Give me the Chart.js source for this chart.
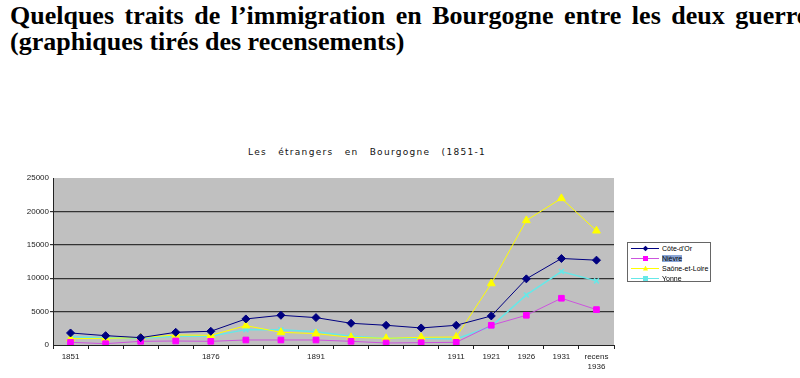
<!DOCTYPE html>
<html>
<head>
<meta charset="utf-8">
<script src="https://cdn.jsdelivr.net/npm/chart.js"></script>
<style>
    body { margin: 0; width: 800px; height: 378px; overflow: hidden; background: #fff; position: relative; }
    .heading {
        position: absolute; left: 10px; top: 3px; white-space: nowrap;
        font-family: "Liberation Serif", serif; font-weight: bold; font-size: 26px; line-height: 26px;
        color: #000;
    }
    .heading .l1 { word-spacing: 4px; }
    #chart-title {
        position: absolute; left: 248px; top: 147px; white-space: nowrap;
        font-family: "DejaVu Sans", sans-serif; font-size: 9px; letter-spacing: 1.3px; word-spacing: 7px; color: #111;
    }
    #chart-box { position: absolute; left: 0; top: 170px; width: 800px; height: 208px; }
    #legend {
        position: absolute; left: 627px; top: 242px; width: 82px; height: 38px;
        border: 1px solid #666; background: #fff;
        font-family: "Liberation Sans", sans-serif; font-size: 7px; color: #000;
    }
    #legend .row { position: absolute; left: 3px; height: 10px; display: flex; align-items: center; }
    #legend .sample { position: relative; width: 28px; height: 1px; margin-right: 3px; }
    #legend .dot { position: absolute; left: 12px; top: -2px; width: 5px; height: 5px; }
    #legend .sel { background: #8aa6d6; }
</style>
</head>
<body>
<div class="heading">
    <div class="l1">Quelques traits de l’immigration en Bourgogne entre les deux guerres</div>
    <div>(graphiques tirés des recensements)</div>
</div>
<div id="chart-title">Les étrangers en Bourgogne (1851-1</div>
<div id="chart-box"><canvas id="chart-etrangers"></canvas></div>
<div id="legend"></div>

<script>
const years = ['1851', '', '', '', '1876', '', '', '1891', '', '', '', '1911', '1921', '1926', '1931', ['recens', '1936']]

const coteDor = [1800, 1400, 1100, 1900, 2050, 3900, 4450, 4100, 3250, 2950, 2550, 2950, 4350, 9900, 12950, 12700]
const nievre = [400, 200, 550, 600, 550, 750, 750, 750, 550, 300, 350, 400, 2950, 4450, 7000, 5300]
const saoneEtLoire = [950, 1000, 1100, 1500, 1450, 2900, 1900, 1700, 1150, 1000, 1150, 1200, 9200, 18650, 21950, 17100]
const yonne = [1250, 1100, 1000, 1300, 1300, 2300, 2300, 2000, 1300, 1000, 1000, 900, 2800, 7500, 11000, 9600]

const yTicks = [0, 5000, 10000, 15000, 20000, 25000]

const series = [
    { label: "Côte-d'Or", data: coteDor, line: '#000080', fill: '#000080', marker: 'rectRot', size: 4 },
    { label: 'Nièvre', data: nievre, line: '#cc55dd', fill: '#ff00ff', marker: 'rect', size: 4 },
    { label: 'Saône-et-Loire', data: saoneEtLoire, line: '#ffff00', fill: '#ffff00', marker: 'triangle', size: 4.5 },
    { label: 'Yonne', data: yonne, line: '#66e8e8', fill: '#66e8e8', marker: 'crossRot', size: 3.5 }
]

const plotBackground = {
    id: 'plotBackground',
    beforeDraw(chart) {
        const { ctx, chartArea: { left, top, width, height } } = chart
        ctx.save()
        ctx.fillStyle = '#c0c0c0'
        ctx.fillRect(left, top, width, height)
        ctx.restore()
    }
}

const ctx = document.getElementById('chart-etrangers').getContext('2d')

const chart = new Chart(ctx, {
    type: 'line',
    data: {
        labels: years,
        datasets: series.map(s => ({
            label: s.label,
            data: s.data,
            borderColor: s.line,
            backgroundColor: s.fill,
            pointBackgroundColor: s.fill,
            pointBorderColor: s.fill,
            pointStyle: s.marker,
            pointRadius: s.size,
            pointBorderWidth: s.marker === 'crossRot' ? 1.5 : 1,
            borderWidth: s.label === 'Yonne' ? 1.5 : 1,
            tension: 0
        }))
    },
    options: {
        responsive: true,
        maintainAspectRatio: false,
        animation: false,
        layout: { padding: { top: 8, right: 186, left: 0, bottom: 0 } },
        plugins: {
            legend: { display: false },
            title: { display: false },
            tooltip: { enabled: false }
        },
        scales: {
            x: {
                offset: true,
                afterFit: s => { s.height = 33 },
                border: { display: true, color: '#222', width: 1 },
                grid: { drawOnChartArea: false, offset: true, tickLength: 4, color: '#222' },
                ticks: {
                    autoSkip: false, maxRotation: 0, color: '#222', padding: 3,
                    font: { family: 'Liberation Sans', size: 8 }
                }
            },
            y: {
                min: 0,
                max: 25000,
                afterFit: s => { s.width = 53 },
                afterBuildTicks: s => { s.ticks = yTicks.map(v => ({ value: v })) },
                border: { display: true, color: '#222', width: 1 },
                grid: {
                    tickLength: 3,
                    color: c => (c.tick.value === 0 || c.tick.value === 25000) ? 'rgba(0,0,0,0)' : '#333',
                    lineWidth: 1.2
                },
                ticks: {
                    color: '#222', padding: 1,
                    font: { family: 'Liberation Sans', size: 8 },
                    callback: value => String(value)
                }
            }
        }
    },
    plugins: [plotBackground]
})

const legend = document.getElementById('legend')
series.forEach((s, i) => {
    const shape = s.marker === 'rectRot' ? 'transform: rotate(45deg) scale(0.8);' :
        s.marker === 'triangle' ? 'clip-path: polygon(50% 0, 100% 100%, 0 100%);' : ''
    legend.innerHTML += `
        <div class="row" style="top:${i * 10 + 0}px">
            <div class="sample" style="background:${s.line}">
                <div class="dot" style="background:${s.fill};${shape}"></div>
            </div>
            <span class="${s.label === 'Nièvre' ? 'sel' : ''}">${s.label}</span>
        </div>`
})
</script>
</body>
</html>
